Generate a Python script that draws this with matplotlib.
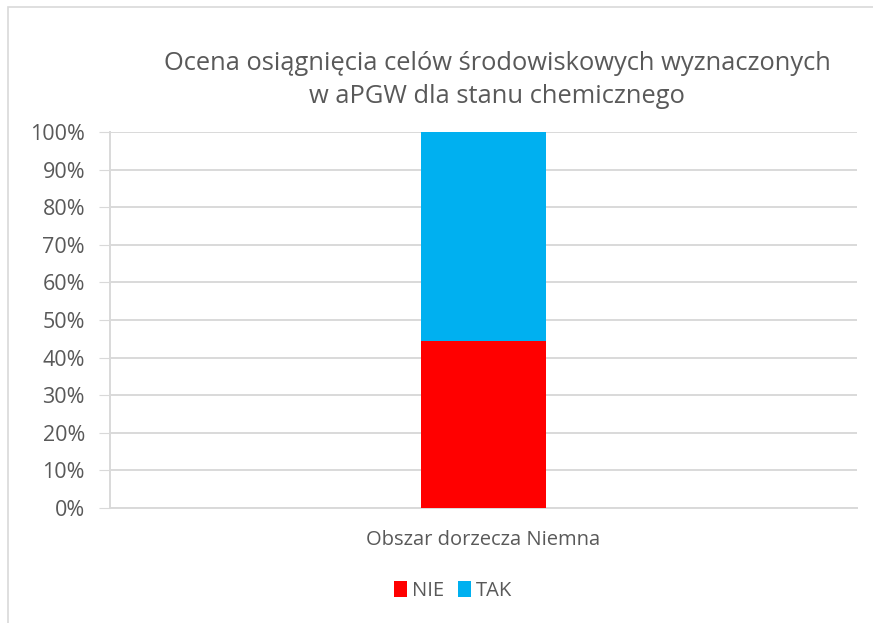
import matplotlib
matplotlib.use("Agg")
import matplotlib.pyplot as plt
from matplotlib.patches import Rectangle

plt.rcParams['font.family'] = ['Open Sans', 'DejaVu Sans']

categories = ["Obszar dorzecza Niemna"]
series_names = ["NIE", "TAK"]
nie_values = [0.444]
tak_values = [0.556]
colors = ["#FF0000", "#00B0F0"]
yticks = [0, 0.1, 0.2, 0.3, 0.4, 0.5, 0.6, 0.7, 0.8, 0.9, 1.0]
title = "Ocena osiągnięcia celów środowiskowych wyznaczonych\nw aPGW dla stanu chemicznego"

txt = "#595959"
grid = "#D9D9D9"

fig = plt.figure(figsize=(8.73, 6.23), dpi=100)
ax = fig.add_axes([110/873, 1-508/623, (857-110)/873, (508-132)/623])

x = list(range(len(categories)))
ax.bar(x, nie_values, width=0.167, color=colors[0], label=series_names[0], zorder=3)
ax.bar(x, tak_values, bottom=nie_values, width=0.167, color=colors[1], label=series_names[1], zorder=3)

ax.set_xlim(-0.5, 0.5)
ax.set_ylim(0, 1)
ax.set_yticks(yticks)
ax.set_yticklabels([f"{int(round(t*100))}%" for t in yticks], color=txt, fontsize=15.5)
ax.set_xticks(x)
ax.set_xticklabels(categories, color=txt, fontsize=14.5)
ax.tick_params(axis='x', length=0, pad=16)
ax.tick_params(axis='y', length=8, color=grid, pad=10)
ax.yaxis.grid(True, color=grid, linewidth=1.4, zorder=0)
for s in ['top', 'right']:
    ax.spines[s].set_visible(False)
ax.spines['left'].set_color(grid)
ax.spines['bottom'].set_color(grid)
ax.spines['left'].set_linewidth(1.4)
ax.spines['bottom'].set_linewidth(1.4)

fig.text(497/873, 1-80/623, title, ha='center', va='center', fontsize=18.4, color=txt, linespacing=1.45)

leg = fig.legend(loc='center', bbox_to_anchor=(453/873, 1-591/623), ncol=2, frameon=False,
                 fontsize=14.5, handlelength=0.65, handleheight=0.85, handletextpad=0.25, columnspacing=0.7)
for t in leg.get_texts():
    t.set_color(txt)

fig.patches.append(Rectangle((8/873, -0.1), 1.2, 1.1-7/623, transform=fig.transFigure, fill=False,
                             edgecolor=grid, linewidth=1.2))

fig.savefig("out.png", dpi=100)
